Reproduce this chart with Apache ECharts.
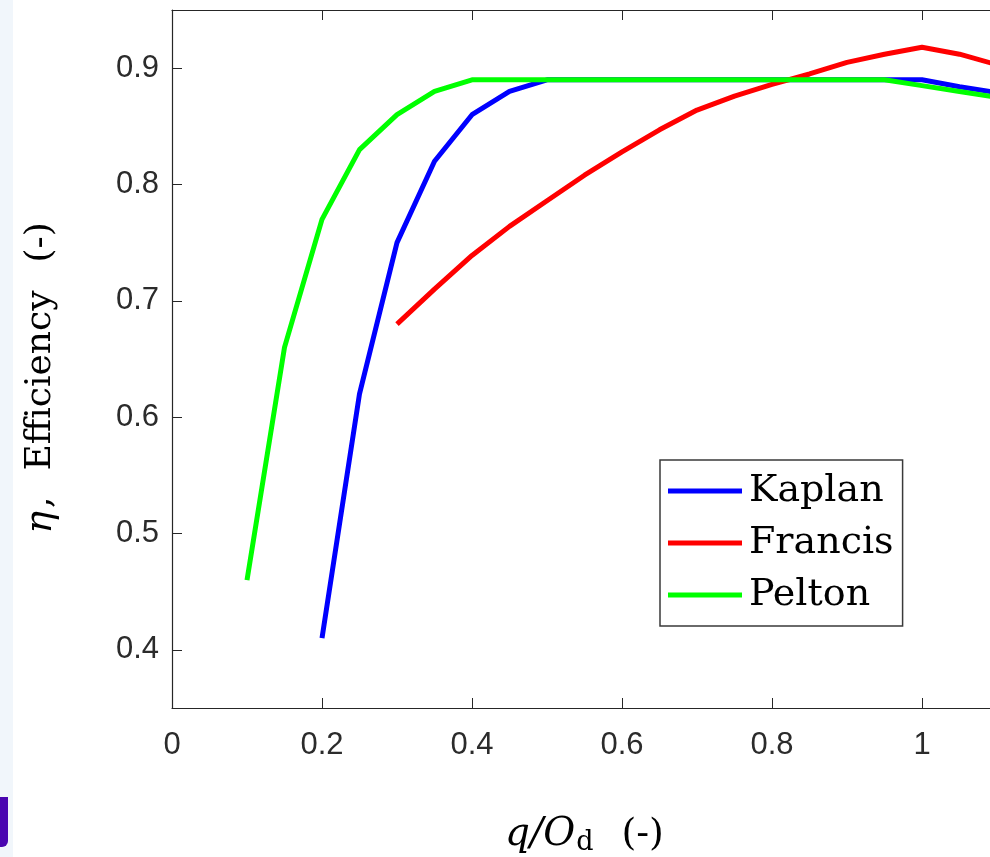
<!DOCTYPE html>
<html>
<head>
<meta charset="utf-8">
<script src="https://cdn.jsdelivr.net/npm/echarts@6/dist/echarts.min.js"></script>
<style>
  html, body { margin: 0; padding: 0; background: #fff; }
  #chart { width: 990px; height: 857px; }
</style>
</head>
<body>
<div id="chart"></div>
<script>
// flow ratio q/Qd
const kaplanX = [0.2, 0.25, 0.3, 0.35, 0.4, 0.45, 0.5, 0.55, 0.6, 0.65, 0.7, 0.75, 0.8, 0.85, 0.9, 0.95, 1.0, 1.05, 1.1];
const kaplanY = [0.41, 0.62, 0.75, 0.82, 0.86, 0.88, 0.89, 0.89, 0.89, 0.89, 0.89, 0.89, 0.89, 0.89, 0.89, 0.89, 0.89, 0.884, 0.879];

const francisX = [0.3, 0.35, 0.4, 0.45, 0.5, 0.55, 0.6, 0.65, 0.7, 0.75, 0.8, 0.85, 0.9, 0.95, 1.0, 1.05, 1.1];
const francisY = [0.68, 0.71, 0.739, 0.764, 0.786, 0.808, 0.828, 0.847, 0.864, 0.876, 0.886, 0.895, 0.905, 0.912, 0.918, 0.912, 0.903];

const peltonX = [0.1, 0.15, 0.2, 0.25, 0.3, 0.35, 0.4, 0.45, 0.5, 0.55, 0.6, 0.65, 0.7, 0.75, 0.8, 0.85, 0.9, 0.95, 1.0, 1.05, 1.1];
const peltonY = [0.46, 0.66, 0.77, 0.83, 0.86, 0.88, 0.89, 0.89, 0.89, 0.89, 0.89, 0.89, 0.89, 0.89, 0.89, 0.89, 0.89, 0.89, 0.885, 0.88, 0.875];

const seriesNames = ["Kaplan", "Francis", "Pelton"];
const seriesColors = ["#0000ff", "#ff0000", "#00ff00"];

const pairs = (xs, ys) => xs.map((x, i) => [x, ys[i]]);
const curves = [pairs(kaplanX, kaplanY), pairs(francisX, francisY), pairs(peltonX, peltonY)];

const axisColor = "#262626";
const tickFont = { fontFamily: "Liberation Sans", fontSize: 31, color: "#2b2b2b" };
const serif = "DejaVu Serif";

const chart = echarts.init(document.getElementById("chart"));
chart.setOption({
  animation: false,
  backgroundColor: "#ffffff",
  // plot box runs a little past the right edge, like the cropped original
  grid: { left: 172, top: 10, width: 825, height: 698, containLabel: false, outerBoundsMode: "none" },
  graphic: [
    { type: "rect", left: 0, top: 0, shape: { width: 13, height: 857 }, style: { fill: "#f1f6fb" }, z: -1 },
    { type: "rect", left: 0, top: 797, shape: { width: 8, height: 50, r: [0, 0, 6, 0] }, style: { fill: "#4a06b0" } },
  ],
  legend: {
    orient: "vertical",
    left: 660,
    top: 460,
    padding: [11, 9, 11, 8],
    borderColor: "#3a3a3a",
    borderWidth: 1.5,
    backgroundColor: "#ffffff",
    itemWidth: 74,
    itemHeight: 5,
    itemGap: 12,
    icon: "rect",
    textStyle: { fontFamily: serif, fontSize: 38, lineHeight: 40, color: "#000", padding: [0, 0, 0, 2] },
    data: seriesNames,
  },
  xAxis: [
    {
      type: "value",
      min: 0,
      max: 1.1,
      position: "bottom",
      axisLine: { show: true, lineStyle: { color: axisColor, width: 1.2 } },
      axisTick: { show: true, inside: true, length: 10, lineStyle: { color: axisColor } },
      splitLine: { show: false },
      axisLabel: Object.assign({ margin: 22, showMaxLabel: false }, tickFont),
      name: "{i|q/O}{s|d}{p|(-)}",
      nameLocation: "middle",
      nameGap: 106,
      nameTextStyle: {
        fontFamily: serif,
        fontSize: 37,
        color: "#000",
        rich: {
          i: { fontFamily: serif, fontStyle: "italic", fontSize: 39, color: "#000" },
          s: { fontFamily: serif, fontSize: 27, color: "#000", padding: [15, 0, 0, 1] },
          p: { fontFamily: serif, fontSize: 38, color: "#000", padding: [0, 0, 0, 28] },
        },
      },
    },
    {
      type: "value",
      min: 0,
      max: 1.1,
      position: "top",
      axisLine: { show: true, lineStyle: { color: axisColor, width: 1.2 } },
      axisTick: { show: true, inside: true, length: 10, lineStyle: { color: axisColor } },
      splitLine: { show: false },
      axisLabel: { show: false },
    },
  ],
  yAxis: {
    type: "value",
    min: 0.35,
    max: 0.95,
    axisLine: { show: true, lineStyle: { color: axisColor, width: 1.2 } },
    axisTick: { show: true, inside: true, length: 10, lineStyle: { color: axisColor } },
    splitLine: { show: false },
    axisLabel: Object.assign({ margin: 13, showMinLabel: false, showMaxLabel: false }, tickFont),
    name: "{i|η}{t|,}{g|Efficiency}{e|(-)}",
    nameLocation: "middle",
    nameGap: 112,
    nameTextStyle: {
      fontFamily: serif,
      fontSize: 36,
      color: "#000",
      rich: {
        i: { fontFamily: serif, fontStyle: "italic", fontSize: 38, color: "#000" },
        t: { fontFamily: serif, fontSize: 36, color: "#000", padding: [0, 0, 0, 3] },
        g: { fontFamily: serif, fontSize: 36, color: "#000", padding: [0, 0, 0, 26] },
        e: { fontFamily: serif, fontSize: 36, color: "#000", padding: [0, 38, 0, 28] },
      },
    },
  },
  series: seriesNames.map((name, i) => ({
    name: name,
    type: "line",
    xAxisIndex: 0,
    data: curves[i],
    showSymbol: false,
    symbol: "none",
    color: seriesColors[i],
    lineStyle: { color: seriesColors[i], width: 5 },
    z: 3 + (i === 2 ? 1 : 0),
  })),
});
</script>
</body>
</html>
